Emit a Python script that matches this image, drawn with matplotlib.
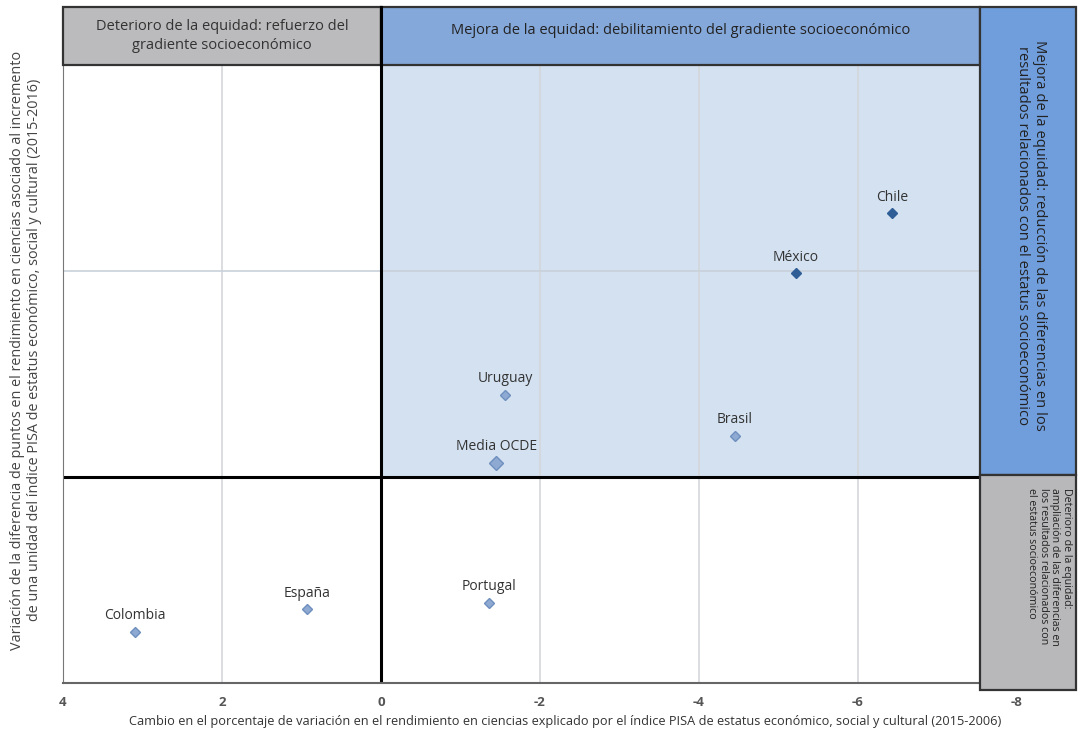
import matplotlib.pyplot as plt
from matplotlib.patches import Rectangle

# Data
countries = ['Chile', 'México', 'Uruguay', 'Brasil', 'Media OCDE', 'Portugal', 'España', 'Colombia']
x_change = [-6.43, -5.22, -1.56, -4.45, -1.45, -1.36, 0.93, 3.10]
y_change = [12.8, 9.9, 4.0, 2.0, 0.7, -6.1, -6.4, -7.5]
dark_points = ['Chile', 'México']
x_ticks = [4, 2, 0, -2, -4, -6, -8]
x_tick_labels = ['4', '2', '0', '-2', '-4', '-6', '-8']

W, H = 1081, 734
fig = plt.figure(figsize=(W / 100, H / 100), dpi=100)


def fx(px):
    return px / W


def fy(py):
    return 1 - py / H


ax = fig.add_axes([fx(63), fy(683), fx(1017) - fx(63), fy(65) - fy(683)])
ax.set_xlim(4, -8)
ax.set_ylim(-10, 20)

# Shaded area (improvement quadrant)
ax.add_patch(Rectangle((0, 0), -8, 20, facecolor='#d3e1f1', edgecolor='none', zorder=0))

# grid
for gx in [2, -2, -4, -6]:
    ax.axvline(gx, color='#d4d7db', lw=1.2, zorder=1)
ax.axhline(10, color='#c9d1da', lw=1.2, zorder=1)
ax.axvline(0, color='black', lw=2.2, zorder=2)
ax.axhline(0, color='black', lw=2.2, zorder=2)

# points
for name, xv, yv in zip(countries, x_change, y_change):
    if name in dark_points:
        fc, ec, ms = '#2f5d96', '#2f5d96', 5.5
    elif name == 'Media OCDE':
        fc, ec, ms = '#8eaad2', '#6f8fbf', 7.5
    else:
        fc, ec, ms = '#8eaad2', '#6f8fbf', 5.5
    ax.plot(xv, yv, marker='D', ms=ms, mfc=fc, mec=ec, mew=1, ls='none', zorder=4)
    ax.annotate(name, (xv, yv), xytext=(0, 6), textcoords='offset points',
                ha='center', va='bottom', fontsize=10, color='#333333',
                family='Open Sans', zorder=5)

ax.set_xticks(x_ticks)
ax.set_xticklabels(x_tick_labels, fontsize=9.5, fontweight='bold', color='#555555', family='Open Sans')
ax.tick_params(axis='x', length=0, pad=9)
ax.set_yticks([])
for s in ['top', 'right']:
    ax.spines[s].set_visible(False)
ax.spines['left'].set_color('#777777')
ax.spines['bottom'].set_color('#666666')
ax.spines['bottom'].set_linewidth(1.5)

fig.text(fx(565), fy(722),
         'Cambio en el porcentaje de variación en el rendimiento en ciencias explicado por el índice PISA '
         'de estatus económico, social y cultural (2015-2006)',
         ha='center', va='center', fontsize=9.2, color='#333333', family='Open Sans')

fig.text(fx(26), fy(350),
         'Variación de la diferencia de puntos en el rendimiento en ciencias asociado al incremento\n'
         'de una unidad del índice PISA de estatus económico, social y cultural (2015-2016)',
         rotation=90, ha='center', va='center', fontsize=10.4, color='#444444',
         family='Open Sans', linespacing=1.2)


def box(x0, y0, x1, y1, color, lw=1.6):
    r = Rectangle((fx(x0), fy(y1)), fx(x1) - fx(x0), fy(y0) - fy(y1),
                  transform=fig.transFigure, facecolor=color, edgecolor='#333333', lw=lw, zorder=3)
    fig.add_artist(r)


# header boxes
box(63, 7, 381, 65, '#bbbbbd')
box(381, 7, 980, 65, '#85a8da')
box(980, 7, 1076, 475, '#709edc')
box(980, 475, 1076, 690, '#b8b8ba')
# thick separators
fig.add_artist(plt.Line2D([fx(381), fx(381)], [fy(7), fy(65)], transform=fig.transFigure,
                          color='black', lw=2.2, zorder=4))

fig.text(fx(222), fy(36), 'Deterioro de la equidad: refuerzo del\ngradiente socioeconómico',
         ha='center', va='center', fontsize=10.5, color='#333333', family='Open Sans',
         linespacing=1.3, zorder=5)
fig.text(fx(681), fy(31), 'Mejora de la equidad: debilitamiento del gradiente socioeconómico',
         ha='center', va='center', fontsize=10.5, color='#222222', family='Open Sans', zorder=5)
fig.text(fx(1031), fy(235),
         'Mejora de la equidad: reducción de las diferencias en los\n'
         'resultados relacionados con el estatus socioeconómico',
         rotation=-90, ha='center', va='center', fontsize=10.6, color='#222222',
         family='Open Sans', linespacing=1.2, zorder=5)
fig.text(fx(1049), fy(488),
         'Deterioro de la equidad:\nampliación de las diferencias en\n'
         'los resultados relacionados con\nel estatus socioeconómico',
         rotation=-90, ha='center', va='top', fontsize=7.7,
         color='#222222', family='Open Sans',
         linespacing=1.1, zorder=5, multialignment='left')

plt.savefig('out.png', dpi=100)
